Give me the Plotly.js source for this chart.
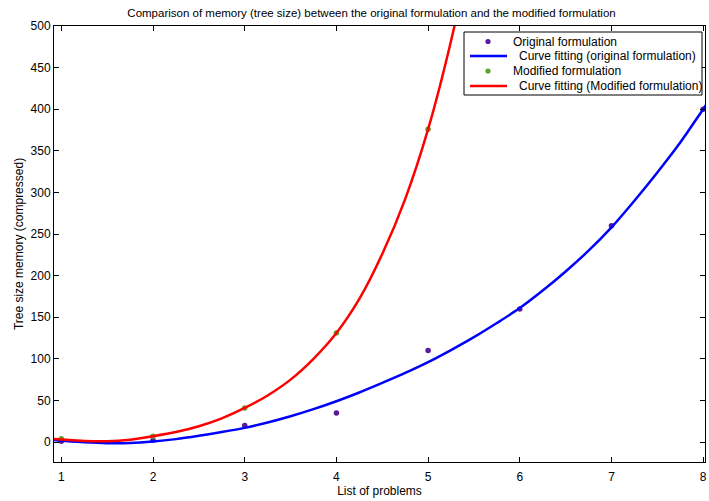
<!DOCTYPE html>
<html>
<head>
<meta charset="utf-8">
<script src="https://cdn.plot.ly/plotly-3.0.1.min.js"></script>
<style>html,body{margin:0;padding:0;background:#fff;}#chart{width:709px;height:501px;}</style>
</head>
<body>
<div id="chart"></div>
<script>
// Problems (x) and measured memory values
const problems = [1, 2, 3, 4, 5, 6, 7, 8];
const originalValues = [1, 2, 20, 35, 110, 160, 260, 400];
const modifiedProblems = [1, 2, 3, 4, 5];
const modifiedValues = [4, 7, 41, 131, 376];

// Fitted curves
const fitOrigX = [0.92, 1, 1.25, 1.5, 1.75, 2, 2.25, 2.5, 2.75, 3, 3.25, 3.5, 3.75, 4, 4.25, 4.5, 4.75, 5, 5.25, 5.5, 5.75, 6, 6.25, 6.5, 6.75, 7, 7.25, 7.5, 7.75, 8, 8.05];
const fitOrigY = [2.4, 1.4, -0.4, -1.4, -1.2, 0.6, 3.5, 7.5, 12, 17, 23.5, 31, 39.5, 49, 59.5, 71, 83, 96, 110.5, 126, 143, 161, 182, 205, 230, 258, 290, 324, 360, 400, 408];
const fitModX = [0.92, 1, 1.25, 1.5, 1.75, 2, 2.25, 2.5, 2.75, 3, 3.25, 3.5, 3.75, 4, 4.25, 4.5, 4.75, 5, 5.25, 5.5];
const fitModY = [3.6, 3, 1.3, 0.9, 2.8, 7, 12, 19, 28.5, 41, 56, 75, 100, 131, 172, 226, 292, 376, 482, 610];

const seriesNames = ['Original formulation', 'Curve fitting (original formulation)', 'Modified formulation', 'Curve fitting (Modified formulation)'];
const xTicks = [1, 2, 3, 4, 5, 6, 7, 8];
const yTicks = [0, 50, 100, 150, 200, 250, 300, 350, 400, 450, 500];

const purple = '#5b1a9e', green = '#5fa22a', blue = '#0000ff', red = '#ff0000';
const font = {family: 'Liberation Sans, Arial, sans-serif', size: 12, color: '#000'};

const traces = [
  {x: problems, y: originalValues, mode: 'markers', type: 'scatter', name: seriesNames[0], marker: {color: purple, size: 5.5}},
  {x: modifiedProblems, y: modifiedValues, mode: 'markers', type: 'scatter', name: seriesNames[2], marker: {color: green, size: 5.5}},
  {x: fitOrigX, y: fitOrigY, mode: 'lines', type: 'scatter', line: {color: blue, width: 2.5, shape: 'spline', smoothing: 0.8}, name: seriesNames[1]},
  {x: fitModX, y: fitModY, mode: 'lines', type: 'scatter', line: {color: red, width: 2.5, shape: 'spline', smoothing: 0.8}, name: seriesNames[3]}
];

// plot area geometry (pixels) used to place the hand-made legend
const L = 54, R = 705, T = 26, B = 462;
const px = v => (v - L) / (R - L);
const py = v => 1 - (v - T) / (B - T);

const rows = [41.5, 56, 71, 86];
const shapes = [
  {type: 'rect', xref: 'paper', yref: 'paper', x0: px(464), x1: px(702), y0: py(32), y1: py(95),
   fillcolor: '#fff', line: {color: '#000', width: 1}, layer: 'above'},
  {type: 'circle', xref: 'paper', yref: 'paper', xsizemode: 'pixel', ysizemode: 'pixel', xanchor: px(488), yanchor: py(rows[0]),
   x0: -2.6, x1: 2.6, y0: -2.6, y1: 2.6, fillcolor: purple, line: {width: 0}},
  {type: 'line', xref: 'paper', yref: 'paper', x0: px(470), x1: px(507), y0: py(rows[1]), y1: py(rows[1]), line: {color: blue, width: 2.5}},
  {type: 'circle', xref: 'paper', yref: 'paper', xsizemode: 'pixel', ysizemode: 'pixel', xanchor: px(488), yanchor: py(rows[2]),
   x0: -2.6, x1: 2.6, y0: -2.6, y1: 2.6, fillcolor: green, line: {width: 0}},
  {type: 'line', xref: 'paper', yref: 'paper', x0: px(470), x1: px(507), y0: py(rows[3]), y1: py(rows[3]), line: {color: red, width: 2.5}}
];
const textX = [511, 517, 511, 517];
const annotations = seriesNames.map((n, i) => ({
  xref: 'paper', yref: 'paper', x: px(textX[i]), y: py(rows[i]), xanchor: 'left', yanchor: 'middle',
  text: n, showarrow: false, font: font
}));

const layout = {
  width: 709, height: 501,
  margin: {l: L, r: 709 - R, t: T, b: 501 - B},
  paper_bgcolor: '#fff', plot_bgcolor: '#fff',
  font: font,
  showlegend: false,
  title: {text: 'Comparison of memory (tree size) between the original formulation and the modified formulation',
          font: {family: font.family, size: 11.5, color: '#000'}, xref: 'container', x: 0.524, xanchor: 'center', y: 0.982, yanchor: 'top'},
  xaxis: {range: [0.92, 8.02], tickvals: xTicks, ticktext: xTicks.map(String), ticks: 'inside', ticklen: 5,
          tickcolor: '#000', showline: true, linecolor: '#000', linewidth: 1, mirror: 'ticks', showgrid: false, zeroline: false,
          ticklabelstandoff: 4,
          title: {text: 'List of problems', font: font, standoff: 1}, tickfont: font},
  yaxis: {range: [-24, 500], tickvals: yTicks, ticktext: yTicks.map(String), ticks: 'inside', ticklen: 5,
          tickcolor: '#000', showline: true, linecolor: '#000', linewidth: 1, mirror: 'ticks', showgrid: false, zeroline: false,
          title: {text: 'Tree size memory (compressed)', font: font, standoff: 4}, tickfont: font},
  shapes: shapes,
  annotations: annotations
};

Plotly.newPlot('chart', traces, layout, {staticPlot: true, displayModeBar: false});
</script>
</body>
</html>
